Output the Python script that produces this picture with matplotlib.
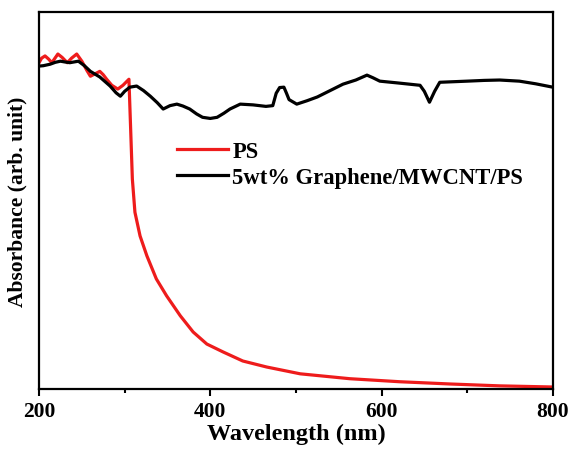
import matplotlib.pyplot as plt
from matplotlib.ticker import MultipleLocator

# wavelength (nm) and absorbance (arb. unit)
ps_wl = [200, 203, 207, 211, 215, 218, 222, 227, 233, 238, 244, 250, 256, 260,
         265, 271, 275, 279, 285, 292, 298, 305, 307, 309, 312, 318, 326, 337,
         349, 365, 380, 396, 415, 438, 466, 505, 563, 621, 680, 738, 800]
ps_abs = [0.866, 0.878, 0.884, 0.876, 0.866, 0.876, 0.889, 0.880, 0.866, 0.878,
          0.889, 0.870, 0.845, 0.830, 0.836, 0.843, 0.834, 0.822, 0.806, 0.796,
          0.806, 0.822, 0.690, 0.557, 0.469, 0.406, 0.353, 0.292, 0.247, 0.194,
          0.151, 0.119, 0.098, 0.074, 0.058, 0.040, 0.027, 0.019, 0.013, 0.008,
          0.005]

gm_wl = [200, 205, 213, 219, 225, 230, 236, 241, 246, 253, 260, 271, 283, 290,
         295, 300, 306, 314, 322, 330, 338, 345, 353, 361, 368, 376, 384, 391,
         400, 408, 416, 423, 435, 450, 465, 473, 477, 481, 486, 489, 492, 501,
         513, 525, 540, 555, 570, 583, 590, 598, 620, 645, 650, 656, 662, 668,
         700, 720, 738, 761, 780, 800]
gm_abs = [0.857, 0.858, 0.862, 0.867, 0.870, 0.868, 0.866, 0.868, 0.870, 0.858,
          0.843, 0.828, 0.804, 0.786, 0.777, 0.790, 0.801, 0.804, 0.792, 0.777,
          0.760, 0.743, 0.752, 0.756, 0.751, 0.743, 0.730, 0.721, 0.718, 0.721,
          0.732, 0.743, 0.756, 0.754, 0.750, 0.752, 0.785, 0.800, 0.801, 0.785,
          0.768, 0.756, 0.765, 0.775, 0.792, 0.809, 0.820, 0.833, 0.826, 0.817,
          0.812, 0.806, 0.790, 0.761, 0.790, 0.814, 0.817, 0.819, 0.820, 0.817,
          0.810, 0.801]

plt.rcParams['font.family'] = ['Liberation Serif', 'DejaVu Serif']
plt.rcParams['font.weight'] = 'bold'

fig = plt.figure(figsize=(5.74, 4.56), dpi=100)
ax = fig.add_axes([0.068, 0.145, 0.895, 0.826])

ax.plot(ps_wl, ps_abs, color='#ee1c1c', lw=2.3, label='PS')
ax.plot(gm_wl, gm_abs, color='black', lw=2.3, label='5wt% Graphene/MWCNT/PS')

ax.set_xlim(200, 800)
ax.set_ylim(0, 1)
ax.xaxis.set_major_locator(MultipleLocator(200))
ax.xaxis.set_minor_locator(MultipleLocator(100))
ax.set_yticks([])
ax.tick_params(axis='x', which='major', direction='out', length=5, width=1.5,
               labelsize=15.5, pad=4)
ax.tick_params(axis='x', which='minor', direction='out', length=3, width=1.5)
for s in ax.spines.values():
    s.set_linewidth(1.6)

ax.set_xlabel('Wavelength (nm)', fontsize=17.5, fontweight='bold', labelpad=1)
ax.set_ylabel('Absorbance (arb. unit)', fontsize=15.5, fontweight='bold', labelpad=8)

ax.legend(loc='upper left', bbox_to_anchor=(0.268, 0.657), frameon=False,
          fontsize=16.3, borderpad=0, borderaxespad=0, handlelength=2.25,
          handletextpad=0.2, labelspacing=0.2)

plt.savefig('out.png', dpi=100)
plt.close()
